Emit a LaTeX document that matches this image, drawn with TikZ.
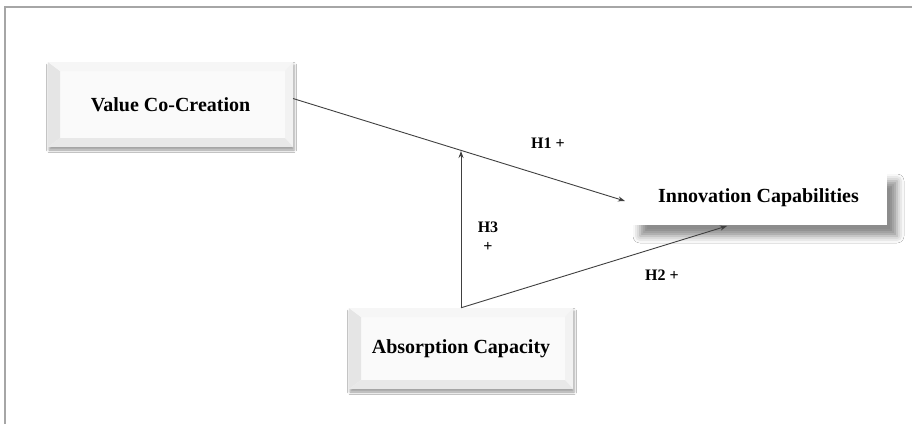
\documentclass[tikz,border=0pt]{standalone}
\usepackage{fontspec}
\setmainfont{Liberation Serif}
\usetikzlibrary{arrows.meta,shadows.blur,calc}
\tikzset{
  bevelbox/.style={minimum width=#1, inner sep=0pt, fill=gray!4,
    font=\bfseries\fontsize{20}{24}\selectfont,
    blur shadow={shadow xshift=1pt, shadow yshift=-3pt, shadow blur radius=2.5pt, shadow opacity=40},
    path picture={
      \fill[gray!20] (path picture bounding box.south west) -- (path picture bounding box.north west) -- ([shift={(12pt,-9pt)}]path picture bounding box.north west) -- ([shift={(12pt,9pt)}]path picture bounding box.south west) -- cycle;
      \fill[gray!7] (path picture bounding box.north west) -- (path picture bounding box.north east) -- ([shift={(-8pt,-9pt)}]path picture bounding box.north east) -- ([shift={(12pt,-9pt)}]path picture bounding box.north west) -- cycle;
      \fill[gray!10] (path picture bounding box.north east) -- (path picture bounding box.south east) -- ([shift={(-8pt,9pt)}]path picture bounding box.south east) -- ([shift={(-8pt,-9pt)}]path picture bounding box.north east) -- cycle;
      \fill[gray!18] (path picture bounding box.south west) -- (path picture bounding box.south east) -- ([shift={(-8pt,9pt)}]path picture bounding box.south east) -- ([shift={(12pt,9pt)}]path picture bounding box.south west) -- cycle;
    }},
  flatbox/.style={minimum width=257pt, minimum height=55pt, inner sep=0pt, fill=white,
    font=\bfseries\fontsize{20}{24}\selectfont,
    blur shadow={shadow xshift=10pt, shadow yshift=-11pt, shadow blur radius=7pt, shadow opacity=45}},
  hlabel/.style={font=\bfseries\fontsize{16}{18}\selectfont, inner sep=0pt},
  link/.style={draw=black!75, line width=0.9pt, -{Stealth[length=7pt,width=5pt]}},
  frameline/.style={draw=gray!70, line width=1.5pt}
}
\begin{document}
\begin{tikzpicture}[x=1pt,y=-1pt]
\useasboundingbox (0,0) rectangle (912,424);
\fill[white] (0,0) rectangle (912,424);
\draw[frameline] (5,424) -- (5,7) -- (912,7);

\node[bevelbox=245pt, minimum height=85pt] (vcc) at (170.5,104.5) {Value Co-Creation};
\node[bevelbox=224pt, minimum height=81pt] (ac) at (461,348.5) {Absorption Capacity};
\node[flatbox] (ic) at (758.5,197.5) {Innovation Capabilities};

\coordinate (h1start) at (293,98.5);
\coordinate (h1tip) at (625,201);
\coordinate (h2tip) at (727,226);
\coordinate (h3tip) at (461,151);

\draw[link] (h1start) -- (h1tip);
\draw[link] (ac.north) -- (h3tip);
\draw[link] (ac.north) -- (h2tip);

\node[hlabel] (l1) at (548,143) {H1 +};
\node[hlabel] (l3) at (488,227) {H3};
\node[hlabel] (l3b) at (488,247) {+};
\node[hlabel] (l2) at (662,275) {H2 +};
\end{tikzpicture}
\end{document}
